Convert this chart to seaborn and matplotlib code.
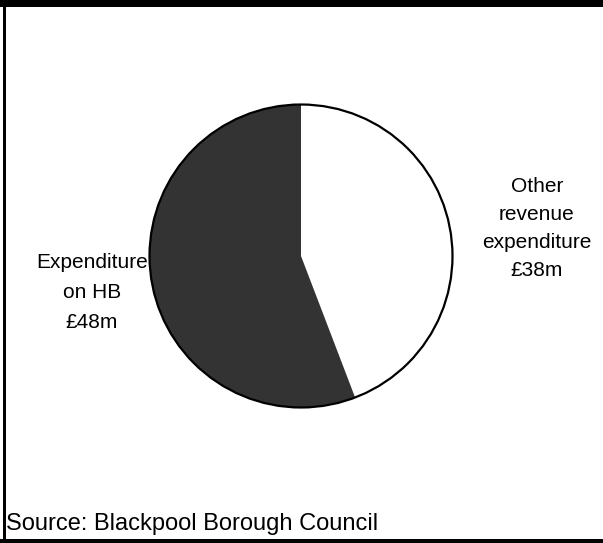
import matplotlib
matplotlib.use("Agg")
import matplotlib.pyplot as plt
from matplotlib.patches import Rectangle, Circle
import seaborn as sns

# Blackpool Borough Council revenue spending (£m)
categories = ["Other\nrevenue\nexpenditure\n£38m", "Expenditure\non HB\n£48m"]
values = [38, 48]
colors = ["#ffffff", "#333333"]
source_text = "Source: Blackpool Borough Council"

sns.set_theme(style="white")
plt.rcParams["font.family"] = ["Liberation Sans", "DejaVu Sans"]

W, H, DPI = 603, 543, 100
fig = plt.figure(figsize=(W / DPI, H / DPI), dpi=DPI)
fig.patch.set_facecolor("white")

# pie axes: centre (301, 256) px, radius 153 px
cx, cy, r = 301, 256, 153
ax = fig.add_axes([(cx - r) / W, (H - cy - r) / H, 2 * r / W, 2 * r / H])

wedges, _ = ax.pie(values, colors=colors, startangle=90, counterclock=False,
                   radius=1.0, wedgeprops=dict(edgecolor="none", linewidth=0))
ax.add_patch(Circle((0, 0), 1.0, fill=False, edgecolor="black", linewidth=1.6))
ax.set_xlim(-1.01, 1.01)
ax.set_ylim(-1.01, 1.01)
ax.set_aspect("equal")
ax.axis("off")

# slice labels
ax.text(1.556, 0.18, categories[0], ha="center", va="center", fontsize=15,
        linespacing=1.6, color="black", clip_on=False)
ax.text(-1.38, -0.24, categories[1], ha="center", va="center", fontsize=15,
        linespacing=1.72, color="black", clip_on=False)

# frame: heavy top rule, left rule, bottom rule
fig.patches.append(Rectangle((0, 1 - 7 / H), 1, 7 / H, transform=fig.transFigure,
                             facecolor="black", edgecolor="none"))
fig.patches.append(Rectangle((3 / W, 0), 2.5 / W, 1, transform=fig.transFigure,
                             facecolor="black", edgecolor="none"))
fig.patches.append(Rectangle((0, 0), 1, 4 / H, transform=fig.transFigure,
                             facecolor="black", edgecolor="none"))

fig.text(6 / W, 1 - 524 / H, source_text, ha="left", va="center",
         fontsize=17, color="black")

fig.savefig("out.png", dpi=DPI, facecolor="white")
